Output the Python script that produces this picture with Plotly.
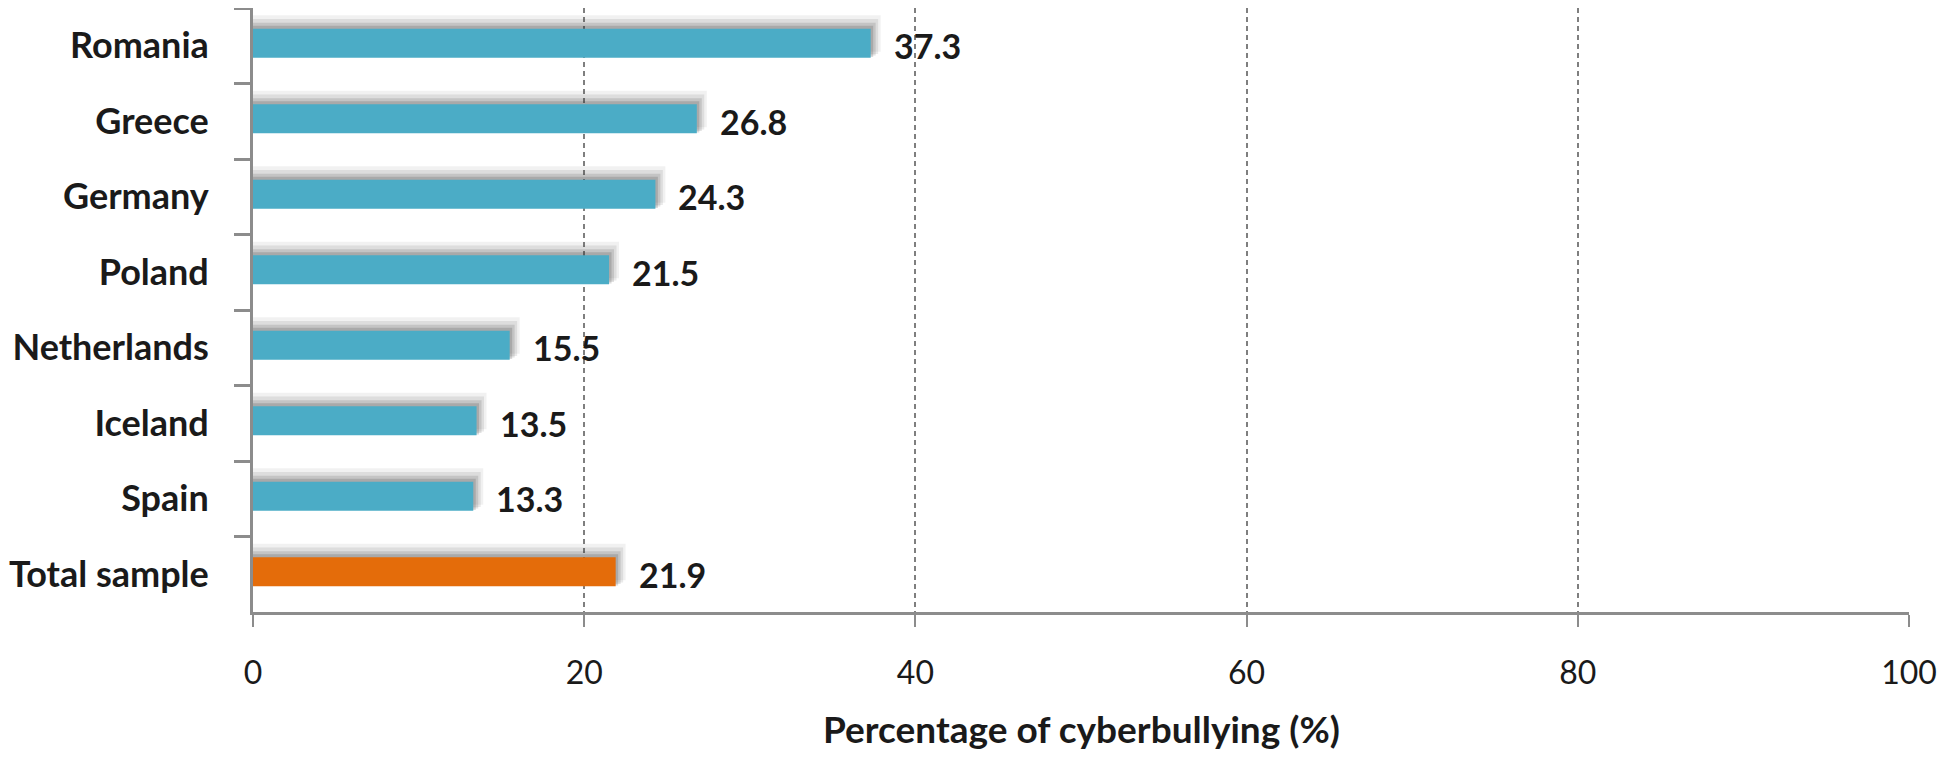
import plotly.graph_objects as go

categories = ["Romania", "Greece", "Germany", "Poland", "Netherlands", "Iceland", "Spain", "Total sample"]
values = [37.3, 26.8, 24.3, 21.5, 15.5, 13.5, 13.3, 21.9]
bar_colors = ["#4BACC6"] * 7 + ["#E46C0A"]
x_ticks = [0, 20, 40, 60, 80, 100]
x_title = "Percentage of cyberbullying (%)"

FONT = "Lato"
fig = go.Figure()

# soft drop-shadow layers (drawn behind the bars)
bar_w = 0.383
bar_off = -0.225
shadow_layers = [(0.18, 0.08, 0.6, 0.07), (0.13, 0.05, 0.45, 0.10), (0.08, 0.03, 0.3, 0.14), (0.04, 0.01, 0.15, 0.18)]
for up, down, dx, op in shadow_layers:
    top = bar_off - up
    bottom = bar_off + bar_w - down
    fig.add_trace(go.Bar(
        y=categories, x=[v + dx for v in values], orientation="h",
        width=bottom - top, offset=top,
        marker=dict(color=f"rgba(50,50,50,{op})", line=dict(width=0)),
        hoverinfo="skip", showlegend=False,
    ))

fig.add_trace(go.Bar(
    y=categories, x=values, orientation="h",
    width=bar_w, offset=bar_off,
    marker=dict(color=bar_colors, line=dict(width=0)),
    showlegend=False,
))

for c, v in zip(categories, values):
    fig.add_annotation(x=v, y=c, text=f"{v:.1f}", xanchor="left", yanchor="middle",
                       xshift=21, yshift=0, showarrow=False,
                       font=dict(family=FONT, size=34, color="#1a1a1a", weight="bold"))

# axis title
fig.add_annotation(x=0.5, y=0, xref="paper", yref="paper", text=x_title,
                   xanchor="center", yanchor="middle", yshift=-116, showarrow=False,
                   font=dict(family=FONT, size=37, color="#1a1a1a", weight="bold"))

fig.update_layout(
    barmode="overlay",
    width=1930, height=743,
    margin=dict(l=245, r=29, t=0, b=139),
    paper_bgcolor="white", plot_bgcolor="white",
    font=dict(family=FONT, color="#1a1a1a"),
    xaxis=dict(
        range=[0, 100], tickvals=x_ticks, ticktext=[str(t) for t in x_ticks],
        showgrid=True, gridcolor="#7f7f7f", griddash="5px,4px", gridwidth=2,
        showline=True, linecolor="#8c8c8c", linewidth=3,
        ticks="outside", ticklen=12, tickcolor="#8c8c8c", tickwidth=2,
        tickfont=dict(family=FONT, size=32, color="#1a1a1a"),
        ticklabelstandoff=19,
        zeroline=False, fixedrange=True, automargin=False,
    ),
    yaxis=dict(
        autorange="reversed", type="category",
        showline=True, linecolor="#8c8c8c", linewidth=3,
        ticks="outside", tickson="boundaries", ticklen=16, tickcolor="#8c8c8c", tickwidth=3,
        tickfont=dict(family=FONT, size=36, color="#1a1a1a", weight="bold"),
        ticklabelstandoff=34,
        showgrid=False, zeroline=False, automargin=False,
    ),
)

fig.write_html("out.html")
